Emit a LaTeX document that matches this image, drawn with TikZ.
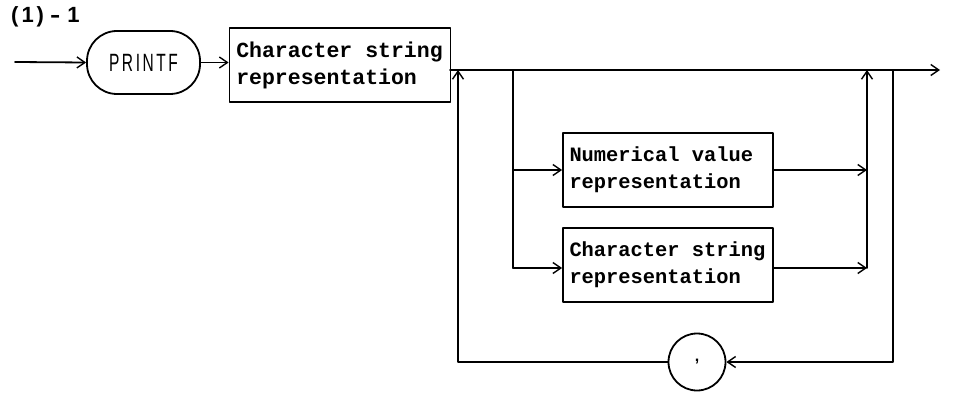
\documentclass[tikz,border=0pt]{standalone}
\usepackage{fontspec}
\usepackage{graphicx}
\setmainfont{Liberation Sans}
\newfontfamily\boxfont{Liberation Mono}
\newcommand{\wsp}{\hspace{0.6em}}
\usetikzlibrary{arrows.meta}
\tikzset{
  ln/.style={line width=1.8pt, line cap=round, line join=round},
  arr/.style={ln, -{Straight Barb[length=8pt,width=11pt,line width=1.4pt]}},
  rbox/.style={draw, ln, inner xsep=6.5pt, inner ysep=6pt, align=left,
     font=\boxfont\bfseries\fontsize{20.4}{27}\selectfont},
}
\begin{document}
\begin{tikzpicture}[x=1pt,y=-1pt]
\useasboundingbox (0,0) rectangle (955,398);
\node[anchor=west, font=\bfseries\fontsize{22}{22}\selectfont, inner sep=0pt] (title) at (11,17)
  {(\hspace{3pt}1\hspace{3pt})\hspace{6pt}\scalebox{1.4}[1]{-}\hspace{7pt}1};
\coordinate (start) at (15,62);
\node[draw, ln, rounded corners=30pt, minimum width=113pt, minimum height=63pt,
      font=\fontsize{25}{25}\selectfont] (printf) at (143.5,62.5)
      {\scalebox{0.62}[1]{P\,R\,I\,N\,T\,F}};
\node[rbox, minimum width=221pt, minimum height=74pt, text width=207.5pt,
      font=\boxfont\bfseries\fontsize{21.5}{27}\selectfont] (box1) at (340,65)
  {Character\wsp string\\representation};
\node[rbox, minimum width=210pt, minimum height=74pt, text width=197pt] (box2) at (668,170)
  {Numerical\wsp value\\representation};
\node[rbox, minimum width=210pt, minimum height=74pt, text width=197pt] (box3) at (668,265)
  {Character\wsp string\\representation};
\node[draw, ln, circle, minimum size=57pt, inner sep=0pt, font=\bfseries\fontsize{16}{16}\selectfont] (comma) at (697,362) {,};

\coordinate (m0) at (450,70);
\coordinate (lt) at (458,70);
\coordinate (lb) at (458,362);
\coordinate (bt) at (513,70);
\coordinate (bb) at (513,268);
\coordinate (mt) at (867,70);
\coordinate (mb) at (867,268);
\coordinate (rt) at (893,70);
\coordinate (rb) at (893,362);
\coordinate (end) at (940,70);

\draw[arr] (start) -- (printf.west);
\draw[arr] (printf.east) -- (box1.west |- printf.east);
\draw[arr] (m0) -- (end);
% left loop back
\draw[arr] (comma.west) -- (lb) -- (lt);
% right loop
\draw[arr] (rt) -- (rb) -- (comma.east);
% branch
\draw[ln] (bt) -- (bb);
\draw[arr] (bt |- box2.west) -- (box2.west);
\draw[arr] (bb) -- (box3.west |- bb);
\draw[arr] (box2.east) -- (mt |- box2.east);
\draw[arr] (box3.east |- mb) -- (mb);
\draw[arr] (mb) -- (mt);
\end{tikzpicture}
\end{document}
